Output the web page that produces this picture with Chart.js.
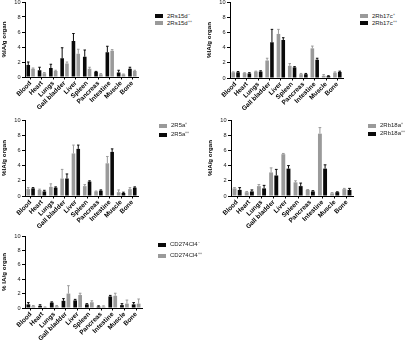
<!DOCTYPE html>
<html lang="en">
  <head>
    <meta charset="UTF-8" />
    <title>Biodistribution</title>
    <script src="https://cdn.jsdelivr.net/npm/chart.js"></script>
    <style>
      body { margin: 0; width: 409px; height: 343px; background: #fff; position: relative; overflow: hidden; font-family: "Liberation Sans", Arial, sans-serif; }
      .panel { position: absolute; }
      .lg { position: absolute; font-size: 6px; color: #222; line-height: 7px; white-space: nowrap; }
      .lg i { position: absolute; width: 8px; height: 4px; top: 1.5px; }
      .lg span { position: absolute; left: 12px; top: 0; }
    </style>
  </head>
  <body>
    <script>
      // organs on the x axis, y ticks shared by all panels
      const organs = ["Blood", "Heart", "Lungs", "Gall bladder", "Liver", "Spleen", "Pancreas", "Intestine", "Muscle", "Bone"];
      const yTicks = [0, 2, 4, 6, 8, 10];

      // 2Rs15d
      const rs15dNeg = [1.6, 0.9, 1.2, 2.5, 4.8, 2.7, 0.7, 3.3, 0.6, 1.1];
      const rs15dNegSd = [0.4, 0.4, 0.5, 1.4, 1.0, 0.9, 0.05, 0.8, 0.3, 0.2];
      const rs15dPos = [1.1, 0.5, 0.8, 1.8, 3.1, 1.1, 0.35, 3.5, 0.35, 0.8];
      const rs15dPosSd = [0.1, 0.1, 0.1, 0.2, 0.6, 0.2, 0.1, 0.15, 0.05, 0.1];

      // 2Rb17c
      const rb17cPos = [0.75, 0.65, 0.85, 2.3, 5.8, 1.6, 0.5, 3.9, 0.3, 0.7];
      const rb17cPosSd = [0.05, 0.05, 0.05, 0.3, 0.6, 0.3, 0.1, 0.3, 0.15, 0.1];
      const rb17cHigh = [0.75, 0.6, 0.85, 4.7, 5.0, 1.4, 0.5, 2.4, 0.25, 0.8];
      const rb17cHighSd = [0.1, 0.1, 0.1, 1.7, 0.3, 0.1, 0.1, 0.2, 0.05, 0.1];

      // 2R5a
      const r5aPos = [0.9, 0.8, 1.2, 2.3, 5.6, 1.3, 0.6, 4.3, 0.5, 0.9];
      const r5aPosSd = [0.2, 0.1, 0.4, 1.2, 1.1, 0.2, 0.05, 0.9, 0.3, 0.2];
      const r5aHigh = [1.0, 0.6, 1.1, 2.3, 6.2, 1.9, 0.7, 5.8, 0.4, 1.1];
      const r5aHighSd = [0.1, 0.15, 0.1, 0.6, 0.5, 0.1, 0.1, 0.4, 0.1, 0.1];

      // 2Rb18a
      const rb18aPos = [1.0, 0.5, 1.3, 3.1, 5.5, 1.8, 0.8, 8.2, 0.35, 0.9];
      const rb18aPosSd = [0.1, 0.1, 0.2, 0.6, 0.1, 0.2, 0.05, 0.8, 0.1, 0.1];
      const rb18aHigh = [0.8, 0.6, 1.0, 2.7, 3.6, 1.3, 0.6, 3.6, 0.5, 0.8];
      const rb18aHighSd = [0.3, 0.2, 0.4, 0.8, 0.4, 0.4, 0.1, 0.5, 0.05, 0.2];

      // CD274Cl4
      const cd274Neg = [0.5, 0.3, 0.75, 1.0, 1.05, 0.5, 0.2, 1.6, 0.4, 0.5];
      const cd274NegSd = [0.25, 0.15, 0.1, 0.3, 0.15, 0.1, 0.1, 0.15, 0.2, 0.25];
      const cd274Pos = [0.25, 0.1, 0.25, 2.0, 1.8, 0.8, 0.2, 1.7, 0.6, 0.6];
      const cd274PosSd = [0.1, 0.05, 0.1, 1.1, 0.25, 0.2, 0.1, 0.35, 0.5, 0.65];

      const BLACK = "#0a0a0a";
      const GRAY = "#9a9a9a";
      const FONT = "'Liberation Sans', Arial, sans-serif";

      // upward-only SD whiskers with a cap, like GraphPad
      const errorBars = {
        id: "errorBars",
        afterDatasetsDraw(chart) {
          const { ctx } = chart;
          const y = chart.scales.y;
          chart.data.datasets.forEach((ds, i) => {
            const meta = chart.getDatasetMeta(i);
            meta.data.forEach((bar, j) => {
              const top = y.getPixelForValue(ds.data[j] + ds.sd[j]);
              const cap = bar.width * 0.35;
              ctx.save();
              ctx.strokeStyle = ds.backgroundColor;
              ctx.lineWidth = 1;
              ctx.beginPath();
              ctx.moveTo(bar.x, bar.y);
              ctx.lineTo(bar.x, top);
              ctx.moveTo(bar.x - cap, top);
              ctx.lineTo(bar.x + cap, top);
              ctx.stroke();
              ctx.restore();
            });
          });
        },
      };

      function panel(p) {
        const canvas = document.createElement("canvas");
        canvas.className = "panel";
        canvas.style.left = p.left + "px";
        canvas.style.top = p.top + "px";
        canvas.width = p.w;
        canvas.height = p.h;
        canvas.style.width = p.w + "px";
        canvas.style.height = p.h + "px";
        document.body.appendChild(canvas);

        new Chart(canvas.getContext("2d"), {
          type: "bar",
          data: {
            labels: organs,
            datasets: p.series.map((s) => ({
              label: s.label,
              data: s.data,
              sd: s.sd,
              backgroundColor: s.color,
              borderWidth: 0,
              categoryPercentage: 0.85,
              barPercentage: 0.75,
            })),
          },
          options: {
            responsive: false,
            animation: false,
            layout: { padding: { top: p.padT, right: 3, left: 0, bottom: 0 } },
            plugins: { legend: { display: false }, tooltip: { enabled: false } },
            scales: {
              x: {
                afterFit: (s) => { s.height = 36; },
                grid: { drawOnChartArea: false, offset: false, tickLength: 2.5, color: "#000", lineWidth: 1 },
                border: { color: "#000", width: 1 },
                ticks: {
                  minRotation: 45, maxRotation: 45, autoSkip: false, padding: 0,
                  color: "#000", font: { family: FONT, size: 6.5, weight: "bold" },
                },
              },
              y: {
                min: 0, max: 10,
                afterFit: (s) => { s.width = 25; },
                afterBuildTicks: (s) => { s.ticks = yTicks.map((v) => ({ value: v })); },
                grid: { drawOnChartArea: false, tickLength: 3, color: "#000", lineWidth: 1 },
                border: { color: "#000", width: 1 },
                ticks: { padding: 1.5, color: "#222", font: { family: FONT, size: 5.6 } },
                title: {
                  display: true, text: p.yTitle, padding: 0.5,
                  color: "#000", font: { family: FONT, size: 6.2, weight: "bold" },
                },
              },
            },
          },
          plugins: [errorBars],
        });

        // legend block to the right of the plot
        p.series.forEach((s, k) => {
          const d = document.createElement("div");
          d.className = "lg";
          d.style.left = p.lgX + "px";
          d.style.top = p.lgY[k] + "px";
          const box = document.createElement("i");
          box.style.background = s.color;
          const txt = document.createElement("span");
          txt.textContent = s.label;
          d.appendChild(box);
          d.appendChild(txt);
          document.body.appendChild(d);
        });
      }

      panel({
        left: 0, top: -3, w: 141, h: 116, padT: 5, yTitle: "%IA/g organ",
        lgX: 155, lgY: [12.5, 19.5],
        series: [
          { label: "2Rs15d⁻", data: rs15dNeg, sd: rs15dNegSd, color: BLACK },
          { label: "2Rs15d⁺⁺", data: rs15dPos, sd: rs15dPosSd, color: GRAY },
        ],
      });
      panel({
        left: 205, top: -3, w: 141, h: 117, padT: 5, yTitle: "%IA/g organ",
        lgX: 360, lgY: [12.5, 19.5],
        series: [
          { label: "2Rb17c⁺", data: rb17cPos, sd: rb17cPosSd, color: GRAY },
          { label: "2Rb17c⁺⁺", data: rb17cHigh, sd: rb17cHighSd, color: BLACK },
        ],
      });
      panel({
        left: 0, top: 112, w: 141, h: 120, padT: 8, yTitle: "%IA/g organ",
        lgX: 159, lgY: [122, 131],
        series: [
          { label: "2R5a⁺", data: r5aPos, sd: r5aPosSd, color: GRAY },
          { label: "2R5a⁺⁺", data: r5aHigh, sd: r5aHighSd, color: BLACK },
        ],
      });
      panel({
        left: 206, top: 112, w: 150, h: 120, padT: 8, yTitle: "%IA/g organ",
        lgX: 368, lgY: [122, 130],
        series: [
          { label: "2Rb18a⁺", data: rb18aPos, sd: rb18aPosSd, color: GRAY },
          { label: "2Rb18a⁺⁺", data: rb18aHigh, sd: rb18aHighSd, color: BLACK },
        ],
      });
      panel({
        left: 0, top: 231, w: 145, h: 113, padT: 5, yTitle: "% IA/g organ",
        lgX: 158, lgY: [241, 252],
        series: [
          { label: "CD274Cl4⁻", data: cd274Neg, sd: cd274NegSd, color: BLACK },
          { label: "CD274Cl4⁺⁺", data: cd274Pos, sd: cd274PosSd, color: GRAY },
        ],
      });
    </script>
  </body>
</html>
